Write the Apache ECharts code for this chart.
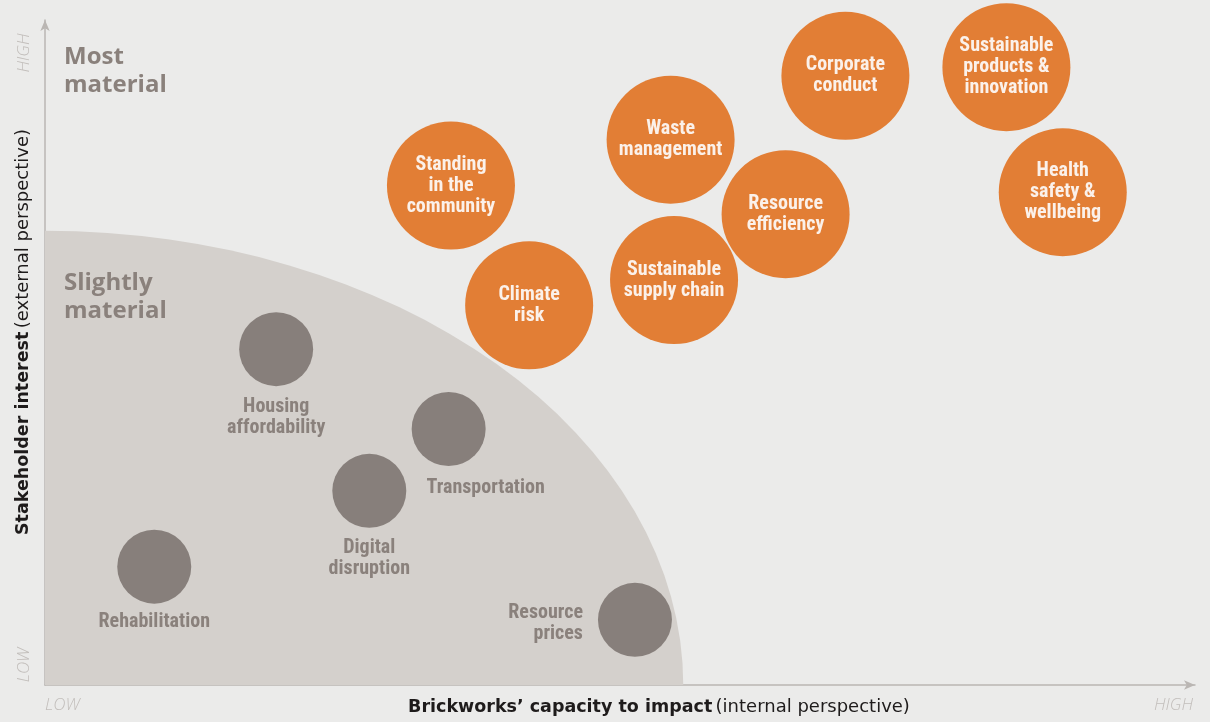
<!DOCTYPE html>
<html><head><meta charset="utf-8">
<script src="https://cdn.jsdelivr.net/npm/echarts@6/dist/echarts.min.js"></script>
<style>html,body{margin:0;padding:0;background:#ebebea;} #c{width:1210px;height:722px;}</style>
</head><body><div id="c"></div>
<script>
// ---- data (axis units 0..100, LOW..HIGH) ----
const materialNames = ['Standing\nin the\ncommunity', 'Climate\nrisk', 'Waste\nmanagement', 'Sustainable\nsupply chain',
  'Resource\nefficiency', 'Corporate\nconduct', 'Sustainable\nproducts &\ninnovation', 'Health\nsafety &\nwellbeing'];
const materialX = [35.3, 42.1, 54.4, 54.7, 64.4, 69.6, 83.6, 88.5];
const materialY = [75.1, 57.1, 82.0, 60.9, 70.8, 91.6, 92.9, 74.1];

const slightNames = ['Housing\naffordability', 'Transportation', 'Digital\ndisruption', 'Rehabilitation', 'Resource\nprices'];
const slightX = [20.1, 35.1, 28.2, 9.5, 51.3];
const slightY = [50.5, 38.5, 29.2, 17.8, 9.8];

// extent of the "slightly material" zone (x radius, y radius) in axis units
const slightlyZone = [55.5, 68.3];

const axisTitleX = ['Brickworks’ capacity to impact', '(internal perspective)'];
const axisTitleY = ['Stakeholder interest', '(external perspective)'];
const zoneTitles = ['Most\nmaterial', 'Slightly\nmaterial'];
const endLabels = ['LOW', 'HIGH'];

// ---- styles ----
const ORANGE = '#e27e35', GREY = '#877f7b', TXT = '#8a817c', AXIS = '#bab6b3', ZONE = '#d4d0cc', FAINT = '#c2bebb';
const NARROW = "'Liberation Sans Narrow', 'Roboto Condensed', Roboto, sans-serif";
const GEO = "'Open Sans', 'Noto Sans', sans-serif";
const WIDE = "'DejaVu Sans', 'Open Sans', sans-serif";

// label placement for grey items (relative to symbol box)
const slightLabelStyle = {
  'Housing\naffordability': { position: 'bottom', distance: 10 },
  'Transportation': { position: [74, 96], align: 'center', verticalAlign: 'middle' },
  'Digital\ndisruption': { position: 'bottom', distance: 10 },
  'Rehabilitation': { position: 'bottom', distance: 8 },
  'Resource\nprices': { position: [-15, 41], align: 'right', verticalAlign: 'middle' }
};

const chart = echarts.init(document.getElementById('c'), null, { renderer: 'canvas' });

const axisCommon = {
  type: 'value', min: 0, max: 100,
  axisLine: { show: true, onZero: false, symbol: ['none', 'arrow'], symbolSize: [7, 11], lineStyle: { color: AXIS, width: 1.5 } },
  axisTick: { show: false }, axisLabel: { show: false }, splitLine: { show: false }
};

const titleRich = {
  b: { fontFamily: WIDE, fontWeight: 'bold', fontSize: 17.5, fill: '#1e1b1b' },
  n: { fontFamily: WIDE, fontWeight: 'normal', fontSize: 18, fill: '#1e1b1b' }
};

chart.setOption({
  animation: false,
  backgroundColor: '#ebebea',
  grid: { left: 45, right: 15, top: 20, bottom: 37 },
  xAxis: axisCommon,
  yAxis: axisCommon,
  series: [
    {
      type: 'custom',
      silent: true,
      z: 1,
      clip: false,
      data: [slightlyZone],
      renderItem: function (params, api) {
        const o = api.coord([0, 0]);
        const e = api.coord([api.value(0), api.value(1)]);
        const rx = e[0] - o[0], ry = o[1] - e[1];
        return {
          type: 'path',
          shape: { pathData: 'M' + o[0] + ' ' + o[1] + ' L' + (o[0] + rx) + ' ' + o[1] +
            ' A' + rx + ' ' + ry + ' 0 0 0 ' + o[0] + ' ' + (o[1] - ry) + ' Z' },
          style: { fill: ZONE }
        };
      }
    },
    {
      type: 'scatter',
      z: 3,
      symbolSize: 128,
      itemStyle: { color: ORANGE, opacity: 1 },
      emphasis: { disabled: true },
      label: {
        show: true, position: 'inside', color: '#fbf1ea',
        fontFamily: NARROW, fontSize: 20, fontWeight: 'bold', lineHeight: 21,
        formatter: p => p.name
      },
      data: materialNames.map((n, i) => ({ name: n, value: [materialX[i], materialY[i]] }))
    },
    {
      type: 'scatter',
      z: 3,
      symbolSize: 74,
      itemStyle: { color: GREY, opacity: 1 },
      emphasis: { disabled: true },
      label: {
        show: true, color: TXT,
        fontFamily: NARROW, fontSize: 20, fontWeight: 'bold', lineHeight: 21,
        formatter: p => p.name
      },
      data: slightNames.map((n, i) => ({ name: n, value: [slightX[i], slightY[i]], label: slightLabelStyle[n] }))
    }
  ],
  graphic: [
    { type: 'text', left: 64, top: 43, z: 5, style: { text: zoneTitles[0], font: 'bold 24px ' + GEO, fill: TXT, lineHeight: 28 } },
    { type: 'text', left: 64, top: 269, z: 5, style: { text: zoneTitles[1], font: 'bold 24px ' + GEO, fill: TXT, lineHeight: 28 } },
    {
      type: 'text', x: 659, y: 707, z: 5,
      style: {
        text: '{b|' + axisTitleX[0] + '} {n|' + axisTitleX[1] + '}',
        align: 'center', verticalAlign: 'middle', rich: titleRich
      }
    },
    {
      type: 'text', x: 23, y: 332, rotation: Math.PI / 2, z: 5,
      style: {
        text: '{b|' + axisTitleY[0] + '} {n|' + axisTitleY[1] + '}',
        align: 'center', verticalAlign: 'middle', rich: titleRich
      }
    },
    { type: 'text', x: 45, y: 705, z: 5, style: { text: endLabels[0], font: 'italic 300 17px ' + GEO, fill: FAINT, align: 'left', verticalAlign: 'middle' } },
    { type: 'text', x: 1193, y: 705, z: 5, style: { text: endLabels[1], font: 'italic 300 17px ' + GEO, fill: FAINT, align: 'right', verticalAlign: 'middle' } },
    { type: 'text', x: 24, y: 665, rotation: Math.PI / 2, z: 5, style: { text: endLabels[0], font: 'italic 300 17px ' + GEO, fill: FAINT, align: 'center', verticalAlign: 'middle' } },
    { type: 'text', x: 24, y: 53, rotation: Math.PI / 2, z: 5, style: { text: endLabels[1], font: 'italic 300 17px ' + GEO, fill: FAINT, align: 'center', verticalAlign: 'middle' } }
  ]
});
</script>
</body></html>
